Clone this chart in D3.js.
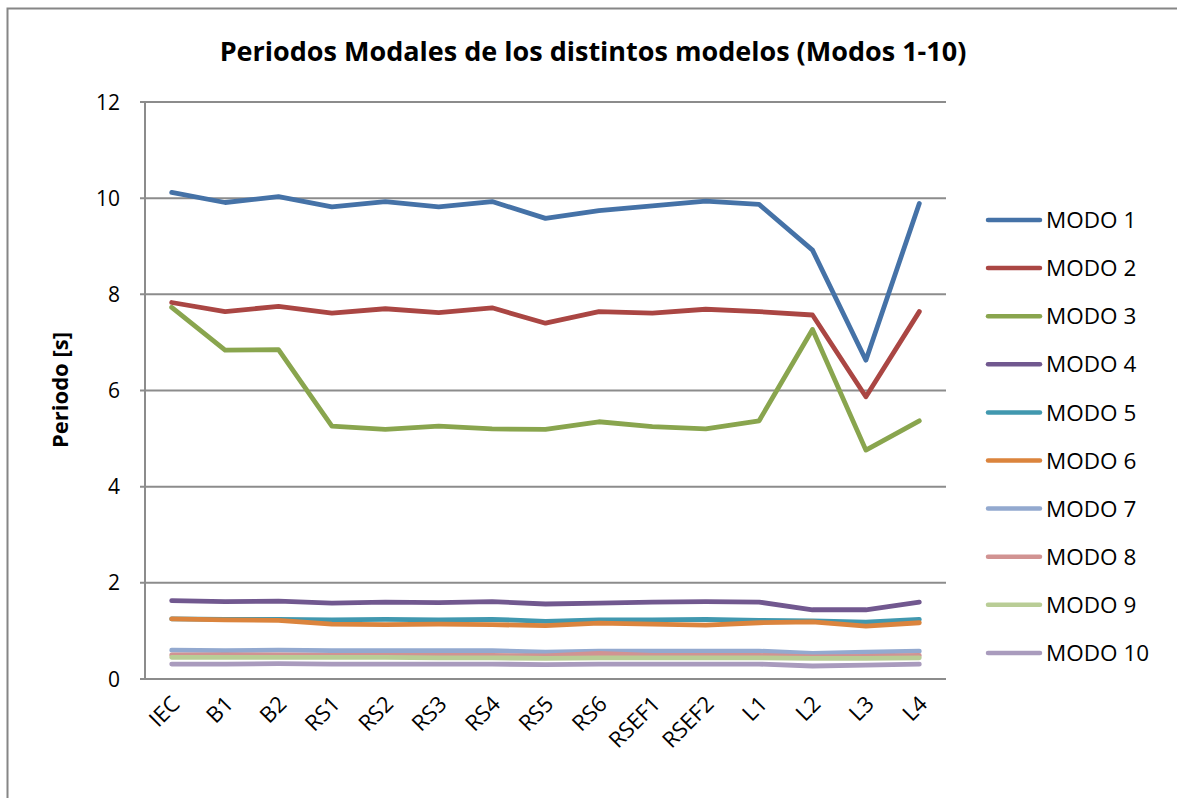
<!DOCTYPE html>
<html>
<head>
<meta charset="utf-8">
<script src="https://cdn.jsdelivr.net/npm/d3@7"></script>
<style>
  body { margin: 0; background: #fff; }
  text { font-family: "Open Sans", sans-serif; fill: #000; }
</style>
</head>
<body>
<div id="chart"></div>
<script>
/* data */
var categories = ["IEC", "B1", "B2", "RS1", "RS2", "RS3", "RS4", "RS5", "RS6", "RSEF1", "RSEF2", "L1", "L2", "L3", "L4"];

var modo1 = [10.12, 9.91, 10.03, 9.82, 9.93, 9.82, 9.93, 9.58, 9.74, 9.84, 9.94, 9.87, 8.92, 6.63, 9.89];
var modo2 = [7.83, 7.64, 7.75, 7.61, 7.70, 7.62, 7.72, 7.40, 7.64, 7.61, 7.69, 7.64, 7.57, 5.87, 7.64];
var modo3 = [7.73, 6.84, 6.85, 5.26, 5.19, 5.26, 5.20, 5.19, 5.35, 5.25, 5.20, 5.37, 7.27, 4.76, 5.37];
var modo4 = [1.63, 1.61, 1.62, 1.58, 1.60, 1.59, 1.61, 1.56, 1.58, 1.60, 1.61, 1.60, 1.44, 1.44, 1.60];
var modo5 = [1.25, 1.24, 1.24, 1.23, 1.24, 1.23, 1.24, 1.20, 1.23, 1.23, 1.24, 1.22, 1.21, 1.18, 1.24];
var modo6 = [1.25, 1.23, 1.22, 1.14, 1.13, 1.14, 1.13, 1.11, 1.16, 1.14, 1.12, 1.17, 1.19, 1.10, 1.17];
var modo7 = [0.60, 0.59, 0.60, 0.59, 0.59, 0.59, 0.59, 0.56, 0.58, 0.58, 0.58, 0.58, 0.53, 0.56, 0.58];
var modo8 = [0.50, 0.50, 0.50, 0.49, 0.49, 0.49, 0.49, 0.48, 0.53, 0.49, 0.49, 0.49, 0.46, 0.47, 0.49];
var modo9 = [0.45, 0.45, 0.45, 0.45, 0.45, 0.44, 0.44, 0.43, 0.44, 0.44, 0.44, 0.44, 0.43, 0.43, 0.44];
var modo10 = [0.31, 0.31, 0.32, 0.31, 0.31, 0.31, 0.31, 0.30, 0.31, 0.31, 0.31, 0.31, 0.27, 0.29, 0.31];

var seriesNames = ["MODO 1", "MODO 2", "MODO 3", "MODO 4", "MODO 5", "MODO 6", "MODO 7", "MODO 8", "MODO 9", "MODO 10"];
var seriesValues = [modo1, modo2, modo3, modo4, modo5, modo6, modo7, modo8, modo9, modo10];
var seriesColors = ["#4572A7", "#AA4643", "#89A54E", "#71588F", "#4198AF", "#DB843D", "#93A9CF", "#D19392", "#B9CD96", "#A99BBD"];

var yTicks = [0, 2, 4, 6, 8, 10, 12];

function plotModes() {
    var width = 1177,
        height = 798,
        plot = { left: 145, right: 946, top: 102, bottom: 679 };

    var svg = d3.select("#chart").append("svg")
        .attr("width", width)
        .attr("height", height);

    // chart frame
    svg.append("rect")
        .attr("x", 7.5).attr("y", 8.5)
        .attr("width", 1185).attr("height", 805)
        .attr("fill", "#fff")
        .attr("stroke", "#868686")
        .attr("stroke-width", 2);

    var x = d3.scalePoint()
        .domain(categories)
        .range([plot.left, plot.right])
        .padding(0.5);

    var y = d3.scaleLinear()
        .domain([0, 12])
        .range([plot.bottom, plot.top]);

    // gridlines
    svg.append("g")
        .selectAll("line")
        .data(yTicks)
        .enter().append("line")
        .attr("x1", plot.left - 5)
        .attr("x2", plot.right)
        .attr("y1", function(d) { return y(d); })
        .attr("y2", function(d) { return y(d); })
        .attr("stroke", "#8c8c8c")
        .attr("stroke-width", 2);

    // y axis line
    svg.append("line")
        .attr("x1", plot.left).attr("x2", plot.left)
        .attr("y1", plot.top).attr("y2", plot.bottom)
        .attr("stroke", "#8c8c8c")
        .attr("stroke-width", 2);

    // y tick labels
    svg.append("g")
        .selectAll("text")
        .data(yTicks)
        .enter().append("text")
        .attr("x", 120)
        .attr("y", function(d) { return y(d); })
        .attr("dy", "0.36em")
        .attr("text-anchor", "end")
        .style("font-size", "21px")
        .text(function(d) { return d; });

    // x tick labels, rotated
    svg.append("g")
        .selectAll("text")
        .data(categories)
        .enter().append("text")
        .attr("transform", function(d) {
            return "translate(" + (x(d) + 4) + "," + 700 + ") rotate(-45)";
        })
        .attr("text-anchor", "end")
        .attr("dy", "0.35em")
        .style("font-size", "22px")
        .text(function(d) { return d; });

    var line = d3.line()
        .x(function(d, i) { return x(categories[i]); })
        .y(function(d) { return y(d); });

    svg.append("g")
        .selectAll("path")
        .data(seriesValues)
        .enter().append("path")
        .attr("d", function(d) { return line(d); })
        .attr("fill", "none")
        .attr("stroke", function(d, i) { return seriesColors[i]; })
        .attr("stroke-width", 4.8)
        .attr("stroke-linejoin", "round")
        .attr("stroke-linecap", "round");

    // title
    svg.append("text")
        .attr("x", 593)
        .attr("y", 61)
        .attr("text-anchor", "middle")
        .style("font-size", "27px")
        .style("font-weight", "bold")
        .text("Periodos Modales de los distintos modelos (Modos 1-10)");

    // y axis title
    svg.append("text")
        .attr("transform", "translate(68,390) rotate(-90)")
        .attr("text-anchor", "middle")
        .style("font-size", "22px")
        .style("font-weight", "bold")
        .text("Periodo [s]");

    // legend
    var legend = svg.selectAll(".legend")
        .data(seriesNames)
        .enter().append("g")
        .attr("class", "legend")
        .attr("transform", function(d, i) {
            return "translate(0," + (220 + i * 48.1) + ")";
        });

    legend.append("line")
        .attr("x1", 988).attr("x2", 1040)
        .attr("y1", 0).attr("y2", 0)
        .attr("stroke", function(d, i) { return seriesColors[i]; })
        .attr("stroke-width", 4.5)
        .attr("stroke-linecap", "round");

    legend.append("text")
        .attr("x", 1046)
        .attr("dy", "0.36em")
        .style("font-size", "22.5px")
        .text(function(d) { return d; });
}

plotModes();
</script>
</body>
</html>
